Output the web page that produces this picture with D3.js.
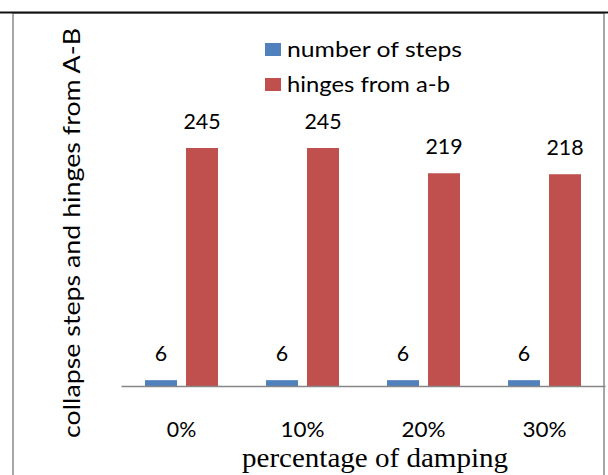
<!DOCTYPE html>
<html>
<head>
<meta charset="utf-8">
<script src="https://cdn.jsdelivr.net/npm/d3@7"></script>
<style>
  html, body { margin: 0; padding: 0; background: #fff; }
  svg { display: block; }
</style>
</head>
<body>
<svg id="chart" width="608" height="475"></svg>
<script>
// Categories and series
const categories = ["0%", "10%", "20%", "30%"];
const seriesNames = ["number of steps", "hinges from a-b"];
const stepsValues = [6, 6, 6, 6];
const hingesValues = [245, 245, 219, 218];
const seriesColors = ["#4F81BD", "#C0504D"];

const svg = d3.select("#chart");
const W = 608, H = 475;
const sans = "Lato, 'Open Sans', sans-serif";

// widen a text element to a given rendered width
function fitWidth(sel, w) {
  sel.attr("textLength", w).attr("lengthAdjust", "spacingAndGlyphs");
}

// outer frame
svg.append("rect").attr("x", 13).attr("y", 13).attr("width", 591).attr("height", 470)
  .attr("fill", "#fff").attr("stroke", "#8a8a8a").attr("stroke-width", 1.5);
svg.append("line").attr("x1", 0).attr("x2", W).attr("y1", 12.5).attr("y2", 12.5)
  .attr("stroke", "#111").attr("stroke-width", 2);

// scales
const x0 = d3.scaleBand().domain(categories).range([121, 605]).paddingInner(0).paddingOuter(0);
const x1 = d3.scaleBand().domain(seriesNames).range([24, x0.bandwidth() - 24]).paddingInner(0.22);
const y = d3.scaleLinear().domain([0, 245]).range([386, 148]);

const rows = categories.map((c, i) => ({
  cat: c,
  vals: [
    { name: seriesNames[0], v: stepsValues[i], color: seriesColors[0] },
    { name: seriesNames[1], v: hingesValues[i], color: seriesColors[1] }
  ]
}));

const g = svg.append("g");
const groups = g.selectAll("g.cat").data(rows).join("g")
  .attr("transform", d => `translate(${x0(d.cat)},0)`);

groups.selectAll("rect").data(d => d.vals).join("rect")
  .attr("x", d => x1(d.name))
  .attr("width", x1.bandwidth())
  .attr("y", d => y(d.v))
  .attr("height", d => y(0) - y(d.v))
  .attr("fill", d => d.color);

groups.selectAll("text.val").data(d => d.vals).join("text")
  .attr("class", "val")
  .attr("x", d => x1(d.name) + x1.bandwidth() / 2)
  .attr("y", d => y(d.v) - 19)
  .attr("text-anchor", "middle")
  .attr("font-family", sans)
  .attr("font-size", 22)
  .attr("fill", "#000")
  .text(d => d.v)
  .attr("textLength", d => String(d.v).length * 12.4)
  .attr("lengthAdjust", "spacingAndGlyphs");

// category axis
const xAxis = d3.axisBottom(x0).tickSize(0).tickPadding(0);
const ax = svg.append("g").attr("transform", `translate(0,${y(0)})`).call(xAxis);
ax.select(".domain").attr("stroke", "#868686").attr("stroke-width", 1.5);
ax.selectAll(".tick text")
  .attr("font-family", sans).attr("font-size", 21).attr("fill", "#000")
  .attr("dy", 0).attr("y", 51)
  .attr("textLength", d => d.length * 14.7)
  .attr("lengthAdjust", "spacingAndGlyphs");

// axis titles
svg.append("text")
  .attr("x", 375).attr("y", 467)
  .attr("text-anchor", "middle")
  .attr("font-family", "'Liberation Serif', 'Times New Roman', serif")
  .attr("font-size", 27).attr("fill", "#000")
  .text("percentage of damping")
  .call(fitWidth, 266);

svg.append("text")
  .attr("transform", "translate(80,233) rotate(-90)")
  .attr("text-anchor", "middle")
  .attr("font-family", sans)
  .attr("font-size", 24).attr("fill", "#000")
  .text("collapse steps and hinges from A-B")
  .call(fitWidth, 410);

// legend
const legendWidths = [175, 163];
const legend = svg.append("g").attr("transform", "translate(265,43)");
const items = legend.selectAll("g").data(seriesNames).join("g")
  .attr("transform", (d, i) => `translate(0,${i * 35})`);
items.append("rect").attr("width", 16).attr("height", 13)
  .attr("fill", (d, i) => seriesColors[i]);
items.append("text").attr("x", 22).attr("y", 14)
  .attr("font-family", sans).attr("font-size", 22).attr("fill", "#000")
  .text(d => d)
  .attr("textLength", (d, i) => legendWidths[i])
  .attr("lengthAdjust", "spacingAndGlyphs");
</script>
</body>
</html>
